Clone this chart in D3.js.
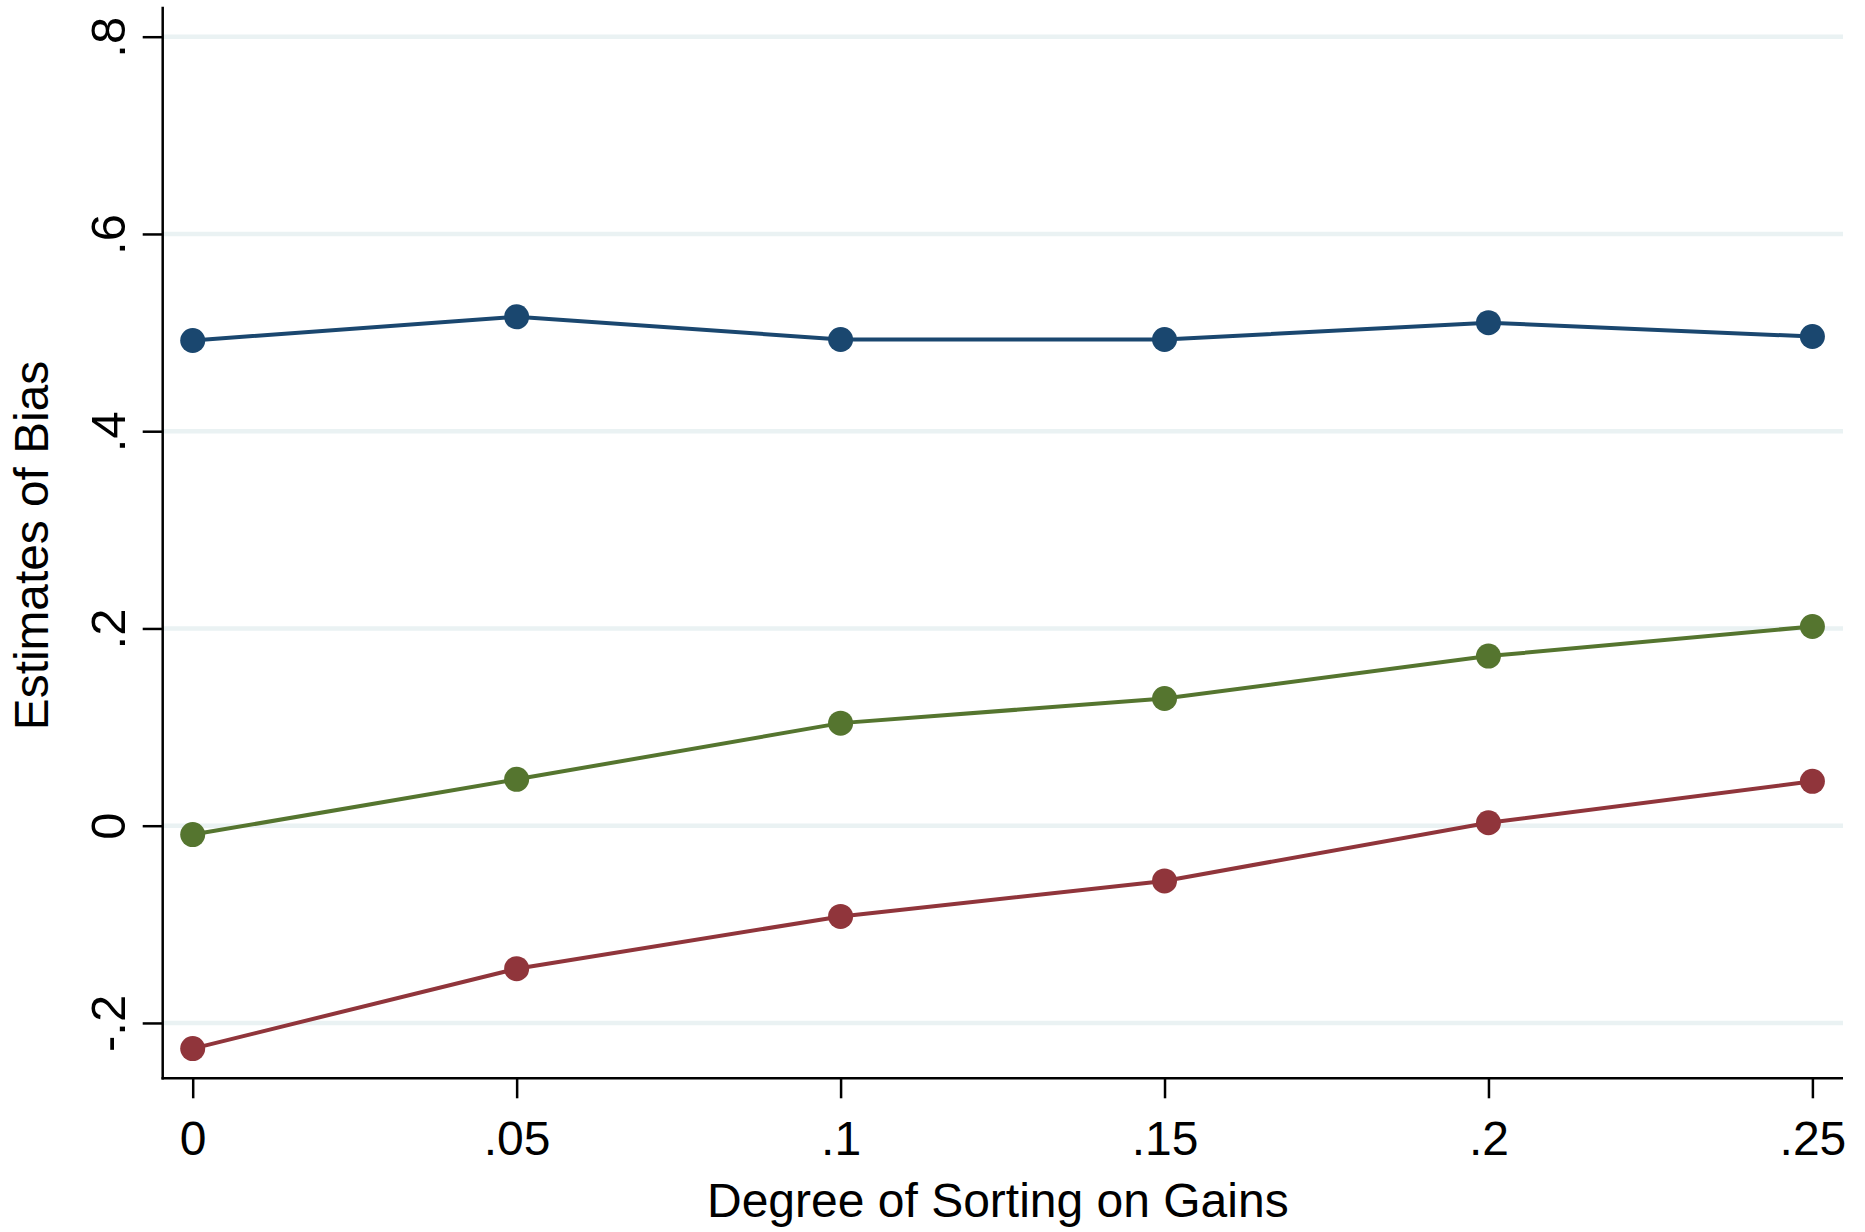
<!DOCTYPE html>
<html>
<head>
<meta charset="utf-8">
<script src="https://cdn.jsdelivr.net/npm/d3@7"></script>
<style>
  html, body { margin: 0; padding: 0; background: #ffffff; }
  svg { display: block; }
  text { font-family: "Liberation Sans", Arial, Helvetica, sans-serif; fill: #000; }
</style>
</head>
<body>
<svg id="chart" width="1865" height="1232"></svg>
<script>
// ---- data ----
const sorting = [0, 0.05, 0.10, 0.15, 0.20, 0.25];
const seriesBlue  = [0.492, 0.516, 0.493, 0.493, 0.510, 0.496];
const seriesGreen = [-0.009, 0.047, 0.104, 0.129, 0.172, 0.202];
const seriesRed   = [-0.226, -0.145, -0.092, -0.056, 0.003, 0.045];
const xTickValues = [0, 0.05, 0.10, 0.15, 0.20, 0.25];
const xTickLabels = ["0", ".05", ".1", ".15", ".2", ".25"];
const yTickValues = [-0.2, 0, 0.2, 0.4, 0.6, 0.8];
const yTickLabels = ["-.2", "0", ".2", ".4", ".6", ".8"];
const xTitle = "Degree of Sorting on Gains";
const yTitle = "Estimates of Bias";

const series = [
  { values: seriesBlue,  color: "#1a476f" },
  { values: seriesGreen, color: "#55752f" },
  { values: seriesRed,   color: "#90353b" }
];

// ---- layout ----
const plot = { left: 162.7, right: 1843, top: 6.7, bottom: 1078.3 };

const x = d3.scaleLinear().domain([0, 0.25]).range([192.7, 1812.4]);
const y = d3.scaleLinear().domain([0, 0.8]).range([825.7, 36.7]);

const svg = d3.select("#chart");
svg.append("rect").attr("width", 1865).attr("height", 1232).attr("fill", "#ffffff");

// gridlines
svg.append("g").selectAll("line").data(yTickValues).join("line")
  .attr("x1", plot.left + 1).attr("x2", plot.right)
  .attr("y1", d => y(d)).attr("y2", d => y(d))
  .attr("stroke", "#eaf2f3").attr("stroke-width", 4.5);

// y axis
const yAxis = d3.axisLeft(y).tickValues(yTickValues)
  .tickFormat((d, i) => yTickLabels[i]).tickSize(20).tickSizeOuter(0).tickPadding(0);
const gy = svg.append("g").attr("transform", `translate(${plot.left},0)`).call(yAxis);
gy.select(".domain").remove();
gy.selectAll(".tick line").attr("stroke", "#000").attr("stroke-width", 2.5);
gy.selectAll(".tick text")
  .attr("x", 0).attr("dy", null).attr("y", 0)
  .attr("text-anchor", "middle")
  .attr("transform", "translate(-38,0) rotate(-90)")
  .style("font-size", "49px");

// x axis
const xAxis = d3.axisBottom(x).tickValues(xTickValues)
  .tickFormat((d, i) => xTickLabels[i]).tickSize(20).tickSizeOuter(0).tickPadding(0);
const gx = svg.append("g").attr("transform", `translate(0,${plot.bottom})`).call(xAxis);
gx.select(".domain").remove();
gx.selectAll(".tick line").attr("stroke", "#000").attr("stroke-width", 2.5);
gx.selectAll(".tick text")
  .attr("dy", null).attr("y", 77)
  .style("font-size", "48px");

// frame axis lines
svg.append("line").attr("x1", plot.left).attr("x2", plot.left)
  .attr("y1", plot.top).attr("y2", plot.bottom + 1.2)
  .attr("stroke", "#000").attr("stroke-width", 2.5);
svg.append("line").attr("x1", plot.left - 1.2).attr("x2", plot.right)
  .attr("y1", plot.bottom).attr("y2", plot.bottom)
  .attr("stroke", "#000").attr("stroke-width", 2.5);

// series lines & markers
const line = d3.line().x((d, i) => x(sorting[i])).y(d => y(d));
series.forEach(s => {
  const g = svg.append("g");
  g.append("path").datum(s.values).attr("d", line)
    .attr("fill", "none").attr("stroke", s.color).attr("stroke-width", 4);
  g.selectAll("circle").data(s.values).join("circle")
    .attr("cx", (d, i) => x(sorting[i])).attr("cy", d => y(d))
    .attr("r", 12.5).attr("fill", s.color);
});

// titles
svg.append("text")
  .attr("x", (plot.left + plot.right) / 2 - 5).attr("y", 1217)
  .attr("text-anchor", "middle").style("font-size", "48px")
  .text(xTitle);
svg.append("text")
  .attr("transform", `translate(48,${(plot.top + plot.bottom) / 2 + 3}) rotate(-90)`)
  .attr("text-anchor", "middle").style("font-size", "47.8px")
  .text(yTitle);
</script>
</body>
</html>
